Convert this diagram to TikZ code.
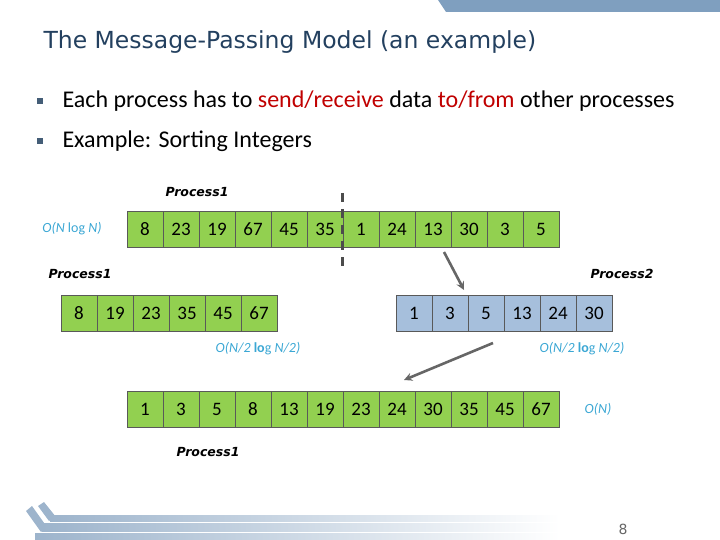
\documentclass[tikz,border=0pt]{standalone}
\usepackage{fontspec}
\setmainfont{Carlito}
\newfontfamily\headfont{DejaVu Sans}
\usetikzlibrary{positioning}
\definecolor{titleblue}{HTML}{23405F}
\definecolor{barblue}{HTML}{7F9FBF}
\definecolor{fadeblue}{HTML}{9DB4CC}
\definecolor{cellgreen}{HTML}{92D050}
\definecolor{cellblue}{HTML}{A6BFDC}
\definecolor{costcyan}{HTML}{3BA7D4}
\definecolor{sendred}{HTML}{C00000}
\definecolor{arrowgray}{HTML}{666666}

\begin{document}
\begin{tikzpicture}[x=1pt,y=-1pt,>=stealth,
  cell/.style={draw=black!65, line width=0.6pt, minimum width=36pt, minimum height=36pt, inner sep=0pt, font=\fontsize{19}{22}\selectfont},
  gcell/.style={cell, fill=cellgreen},
  bcell/.style={cell, fill=cellblue},
  proc/.style={font=\headfont\bfseries\itshape\fontsize{12.5}{15}\selectfont},
  cost/.style={text=costcyan, font=\itshape\fontsize{14}{16}\selectfont},
  msg/.style={arrowgray, line width=2.6pt, ->}]
  \useasboundingbox (0,0) rectangle (720,540);
  \fill[barblue] (438,0) -- (720,0) -- (720,12) -- (446,12) -- cycle;
  \node[anchor=west, text=titleblue, font=\headfont\fontsize{23.5}{27}\selectfont] (title) at (40,42) {The Message-Passing Model (an example)};
  \fill[titleblue!85] (37,98) rectangle (43,104);
  \node[anchor=west, font=\fontsize{24}{28}\selectfont] (item1) at (59,101) {Each process has to \textcolor{sendred}{send/receive} data \textcolor{sendred}{to/from} other processes};
  \fill[titleblue!85] (37,138) rectangle (43,144);
  \node[anchor=west, font=\fontsize{24}{28}\selectfont] (item2) at (59,141) {Example: Sorting Integers};

  \node[proc] (p1a) at (197,192) {Process1};
  \node[cost] (c1) at (72,229) {O(N \upshape log \itshape N)};
  \foreach \v [count=\i] in {8,23,19,67,45,35,1,24,13,30,3,5}
    \node[gcell] (a\i) at ({109+36*\i},229) {\v};
  \draw[black!70, line width=3pt, dash pattern=on 9pt off 7pt] (342.5,193) -- (342.5,266);

  \node[proc] (p1b) at (80,274) {Process1};
  \node[proc] (p2) at (622,274) {Process2};
  \foreach \v [count=\i] in {8,19,23,35,45,67}
    \node[gcell] (b\i) at ({43+36*\i},313) {\v};
  \foreach \v [count=\i] in {1,3,5,13,24,30}
    \node[bcell] (r\i) at ({378+36*\i},313) {\v};
  \node[cost] (c2) at (258,349) {O(N/2 \upshape\textbf{lo}g \itshape N/2)};
  \node[cost] (c3) at (582,349) {O(N/2 \upshape\textbf{lo}g \itshape N/2)};

  \foreach \v [count=\i] in {1,3,5,8,13,19,23,24,30,35,45,67}
    \node[gcell] (m\i) at ({109+36*\i},409) {\v};
  \node[cost] (c4) at (598,409) {O(N)};
  \node[proc] (p1c) at (208,452) {Process1};

  \coordinate (s1) at (444,252);
  \coordinate (e1) at (464,290);
  \coordinate (s2) at (493,343);
  \coordinate (e2) at (404,380);
  \draw[msg] (s1) -- (e1);
  \draw[msg] (s2) -- (e2);

  \fill[fadeblue] (26,511) -- (32,506) -- (47,527) -- (41,532) -- cycle;
  \fill[fadeblue] (38,506) -- (44,502) -- (56,517) -- (49,521) -- cycle;
  \shade[left color=fadeblue, right color=white] (50,515) rectangle (560,521);
  \shade[left color=fadeblue, right color=white] (42,523) rectangle (560,531);
  \shade[left color=fadeblue, right color=white] (35,533) rectangle (560,540);
  \node[text=black!60, font=\headfont\fontsize{14}{16}\selectfont] (page) at (623,529) {8};
\end{tikzpicture}
\end{document}
